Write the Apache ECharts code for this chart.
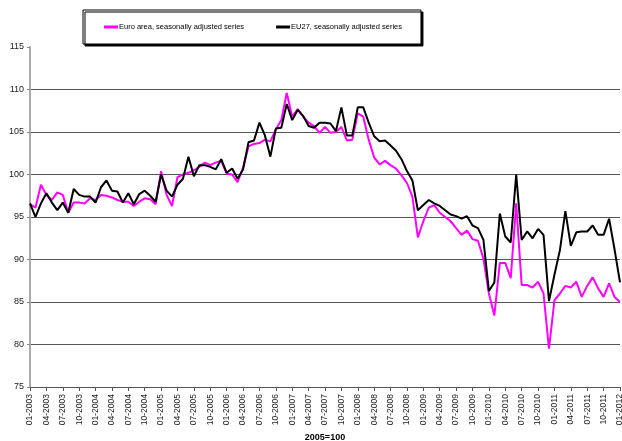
<!DOCTYPE html>
<html>
<head>
<meta charset="utf-8">
<script src="https://cdn.jsdelivr.net/npm/echarts@6/dist/echarts.min.js"></script>
<style>
  html, body { margin: 0; padding: 0; background: #fff; }
  #chart { width: 622px; height: 441px; }
</style>
</head>
<body>
<div id="chart"></div>
<script>
// monthly, 01-2003 .. 01-2012
const years = [2003, 2004, 2005, 2006, 2007, 2008, 2009, 2010, 2011, 2012]
const months = ['01','02','03','04','05','06','07','08','09','10','11','12']
const categories = []
for (let y of years) {
  for (let m of months) {
    if (y === 2012 && m !== '01') break
    categories.push(m + '-' + y)
  }
}

const euroArea = [
  96.5, 96.1, 98.8, 97.6, 97.0, 97.9, 97.6, 95.5, 96.7, 96.7, 96.6, 97.2,
  97.0, 97.6, 97.5, 97.3, 97.0, 96.8, 96.8, 96.3, 96.8, 97.2, 97.1, 96.5,
  100.4, 97.6, 96.3, 99.7, 100.0, 100.2, 100.5, 100.9, 101.4, 101.1, 101.4, 101.6,
  100.1, 100.0, 99.1, 100.8, 103.3, 103.6, 103.7, 104.1, 103.9, 105.3, 106.4, 109.6,
  106.8, 107.7, 106.8, 106.1, 105.7, 104.9, 105.6, 104.9, 105.0, 105.6, 104.0, 104.1,
  107.2, 106.8, 104.1, 102.0, 101.2, 101.6, 101.1, 100.7, 99.9, 99.0, 97.4, 92.6,
  94.5, 96.1, 96.4, 95.5, 95.0, 94.5, 93.7, 92.9, 93.4, 92.4, 92.2, 90.1,
  86.0, 83.4, 89.6, 89.6, 87.8, 96.6, 87.0, 87.0, 86.7, 87.4, 86.0, 79.5,
  85.2, 86.0, 86.9, 86.7, 87.4, 85.6, 86.9, 87.9, 86.6, 85.6, 87.2, 85.6,
  85.0
]

const eu27 = [
  96.6, 95.0, 96.6, 97.8, 96.7, 95.8, 96.7, 95.5, 98.3, 97.6, 97.4, 97.4,
  96.7, 98.5, 99.3, 98.1, 98.0, 96.7, 97.8, 96.5, 97.7, 98.1, 97.5, 96.8,
  100.0, 98.1, 97.4, 98.8, 99.5, 102.1, 99.8, 101.1, 101.1, 100.9, 100.6, 101.8,
  100.2, 100.7, 99.5, 100.6, 103.8, 104.0, 106.1, 104.6, 102.1, 105.4, 105.5, 108.3,
  106.4, 107.6, 106.9, 105.7, 105.5, 106.1, 106.1, 106.0, 105.1, 107.9, 104.6, 104.6,
  107.9, 107.9, 106.1, 104.5, 103.9, 104.0, 103.4, 102.8, 101.8, 100.4, 99.3, 95.8,
  96.4, 97.0, 96.6, 96.3, 95.8, 95.3, 95.1, 94.8, 95.1, 94.0, 93.7, 92.3,
  86.3, 87.3, 95.4, 92.7, 92.0, 100.0, 92.3, 93.3, 92.5, 93.6, 92.9, 85.1,
  88.2, 91.1, 95.7, 91.6, 93.2, 93.3, 93.3, 94.0, 92.9, 92.9, 94.8, 91.2,
  87.3
]

const seriesNames = ['Euro area, seasonally adjusted series', 'EU27, seasonally adjusted series']
const yTicks = {min: 75, max: 115, step: 5}

const font = "'Liberation Sans', Arial, sans-serif"

const chart = echarts.init(document.getElementById('chart'))
chart.setOption({
  animation: false,
  legend: {
    left: 83,
    top: 10,
    padding: [13, 19, 13, 21],
    itemGap: 32,
    itemWidth: 14,
    itemHeight: 3,
    icon: 'rect',
    backgroundColor: '#fff',
    borderColor: '#000',
    borderWidth: 1,
    shadowColor: '#000',
    shadowBlur: 0,
    shadowOffsetX: 2,
    shadowOffsetY: 2,
    textStyle: {fontFamily: font, fontSize: 7.5, color: '#000', padding: [0, 0, 0, -4]},
    data: seriesNames
  },
  grid: {
    left: 30,
    right: 2,
    top: 47,
    bottom: 54,
    outerBoundsMode: 'none'
  },
  xAxis: {
    type: 'category',
    boundaryGap: false,
    data: categories,
    name: '2005=100',
    nameLocation: 'middle',
    nameGap: 44,
    nameTextStyle: {fontFamily: font, fontSize: 9, fontWeight: 'bold', color: '#000', verticalAlign: 'top'},
    axisLine: {lineStyle: {color: '#555', width: 1}},
    axisTick: {
      show: true,
      interval: 2,
      length: 4,
      lineStyle: {color: '#555'}
    },
    axisLabel: {
      interval: 2,
      rotate: 90,
      margin: 7,
      fontFamily: font,
      fontSize: 8.5,
      color: '#222'
    },
    splitLine: {show: false}
  },
  yAxis: {
    type: 'value',
    min: yTicks.min,
    max: yTicks.max,
    interval: yTicks.step,
    axisLine: {show: true, lineStyle: {color: '#aaa', width: 2}},
    axisTick: {show: true, length: 3, lineStyle: {color: '#888'}},
    axisLabel: {
      margin: 6,
      fontFamily: font,
      fontSize: 9,
      color: '#222'
    },
    splitLine: {
      show: true,
      showMinLine: false,
      showMaxLine: false,
      lineStyle: {color: '#555', width: 1}
    }
  },
  series: [
    {
      name: seriesNames[0],
      type: 'line',
      data: euroArea,
      symbol: 'none',
      lineStyle: {color: '#ff00ff', width: 2},
      itemStyle: {color: '#ff00ff'}
    },
    {
      name: seriesNames[1],
      type: 'line',
      data: eu27,
      symbol: 'none',
      lineStyle: {color: '#000', width: 2},
      itemStyle: {color: '#000'}
    }
  ]
})
</script>
</body>
</html>
